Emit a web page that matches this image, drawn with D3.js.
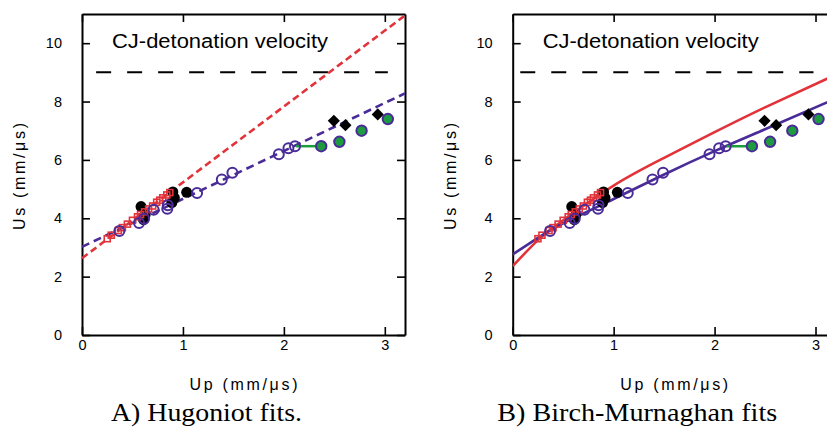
<!DOCTYPE html>
<html>
<head>
<meta charset="utf-8">
<script src="https://cdn.jsdelivr.net/npm/d3@7"></script>
<style>
body { margin: 0; background: #fff; }
svg { display: block; }
</style>
</head>
<body>
<svg id="fig"></svg>
<script>
// data, Up / Us in mm/us
var xTicks = [0, 1, 2, 3];
var yTicks = [0, 2, 4, 6, 8, 10];

var openUp = [0.37, 0.565, 0.615, 0.71, 0.845, 0.85, 1.14, 1.385, 1.49, 1.95, 2.045, 2.11];
var openUs = [3.56, 3.84, 3.98, 4.29, 4.33, 4.45, 4.87, 5.33, 5.56, 6.19, 6.40, 6.47];

var greenUp = [2.37, 2.55, 2.77, 3.03];
var greenUs = [6.47, 6.62, 7.00, 7.40];
var linkUp = [2.12, 2.37];
var linkUs = [6.47, 6.47];

var diamondUp = [2.495, 2.61, 2.93];
var diamondUs = [7.34, 7.19, 7.56];

var blackUp = [0.585, 0.625, 0.61, 0.9, 0.915, 0.89, 1.037];
var blackUs = [4.40, 4.11, 3.95, 4.90, 4.70, 4.54, 4.89];

var redUp = [0.25, 0.29, 0.36, 0.40, 0.45, 0.50, 0.55, 0.58, 0.62, 0.66, 0.70, 0.74, 0.77, 0.80, 0.84, 0.87];
var redUs = [3.30, 3.42, 3.58, 3.68, 3.80, 3.93, 4.05, 4.13, 4.22, 4.32, 4.42, 4.55, 4.62, 4.70, 4.80, 4.88];

// A) Hugoniot fits (straight lines)
var hugRedUp = [0, 3.2];
var hugRedUs = [2.63, 10.95];
var hugBlueUp = [0, 3.2];
var hugBlueUs = [3.02, 8.28];

// B) Birch-Murnaghan fits (curves)
var bmRedUp = [0, 0.25, 0.5, 1, 1.5, 2, 2.5, 3.2];
var bmRedUs = [2.36, 3.25, 3.93, 5.12, 6.07, 6.95, 7.80, 8.92];
var bmBlueUp = [0, 0.25, 0.5, 1, 1.5, 2, 2.5, 3.2];
var bmBlueUs = [2.76, 3.33, 3.83, 4.66, 5.50, 6.30, 7.05, 8.10];

var cjUs = 9;
var cjUpA = [0.14, 3.03];
var cjUpB = [0.075, 2.98];

var red = "#e2333b", blue = "#4a2c98", green = "#1d9b3e";

var width = 827, height = 430;
var pw = 323, ph = 321;
var sans = "'Liberation Sans', Arial, sans-serif";

var svg = d3.select("#fig").attr("width", width).attr("height", height);

function pairs(xs, ys) {
  return xs.map(function(d, i) { return [d, ys[i]]; });
}

function panel(id, left, caption, capLen, fits) {
  var x = d3.scaleLinear().domain([0, 3.2]).range([0, pw]);
  var y = d3.scaleLinear().domain([0, 11]).range([ph, 0]);

  var g = svg.append("g").attr("transform", "translate(" + left + ",14)");

  g.append("clipPath").attr("id", "clip" + id)
    .append("rect").attr("width", pw).attr("height", ph);

  // frame with inward ticks on all sides
  var ax = [
    [d3.axisBottom(x).tickValues(xTicks).tickFormat(d3.format("d")), "translate(0," + ph + ")", 5],
    [d3.axisLeft(y).tickValues(yTicks).tickFormat(d3.format("d")), null, 20],
    [d3.axisTop(x).tickValues(xTicks).tickFormat(""), null, 0],
    [d3.axisRight(y).tickValues(yTicks).tickFormat(""), "translate(" + pw + ",0)", 0]
  ];
  ax.forEach(function(a) {
    var ag = g.append("g")
      .call(a[0].tickSizeInner(-8).tickSizeOuter(0).tickPadding(a[2]));
    if (a[1]) ag.attr("transform", a[1]);
    ag.attr("font-family", sans).attr("font-size", 14.5);
    ag.select(".domain").attr("stroke-width", 2);
    ag.selectAll(".tick line").attr("stroke-width", 1.6);
    ag.selectAll("text").attr("fill", "#000");
  });

  var plot = g.append("g").attr("clip-path", "url(#clip" + id + ")");

  // CJ line and label
  var cjUp = id == "A" ? cjUpA : cjUpB;
  plot.append("line")
    .attr("x1", x(cjUp[0])).attr("x2", x(cjUp[1]))
    .attr("y1", y(cjUs)).attr("y2", y(cjUs))
    .attr("stroke", "#000").attr("stroke-width", 2)
    .attr("stroke-dasharray", "15,16");

  g.append("text")
    .attr("x", 30).attr("y", 34)
    .attr("font-family", sans)
    .attr("font-size", 20)
    .attr("textLength", 216).attr("lengthAdjust", "spacingAndGlyphs")
    .text("CJ-detonation velocity");

  // fits
  fits.forEach(function(f) {
    var line = d3.line()
      .x(function(d) { return x(d[0]); })
      .y(function(d) { return y(d[1]); })
      .curve(d3.curveNatural);
    plot.append("path")
      .datum(pairs(f.up, f.us))
      .attr("d", line)
      .attr("fill", "none")
      .attr("stroke", f.color)
      .attr("stroke-width", 2.6)
      .attr("stroke-dasharray", f.dash);
  });

  // green connector
  plot.append("line")
    .attr("x1", x(linkUp[0])).attr("x2", x(linkUp[1]))
    .attr("y1", y(linkUs[0])).attr("y2", y(linkUs[1]))
    .attr("stroke", green).attr("stroke-width", 2.5);

  plot.selectAll(".blk")
    .data(pairs(blackUp, blackUs)).enter()
    .append("circle")
    .attr("cx", function(d) { return x(d[0]); })
    .attr("cy", function(d) { return y(d[1]); })
    .attr("r", 5.5).attr("fill", "#000");

  plot.selectAll(".sq")
    .data(pairs(redUp, redUs)).enter()
    .append("rect")
    .attr("x", function(d) { return x(d[0]) - 3; })
    .attr("y", function(d) { return y(d[1]) - 3; })
    .attr("width", 6).attr("height", 6)
    .attr("fill", "none").attr("stroke", red).attr("stroke-width", 1.6);

  plot.selectAll(".open")
    .data(pairs(openUp, openUs)).enter()
    .append("circle")
    .attr("cx", function(d) { return x(d[0]); })
    .attr("cy", function(d) { return y(d[1]); })
    .attr("r", 5).attr("fill", "none")
    .attr("stroke", blue).attr("stroke-width", 2);

  plot.selectAll(".grn")
    .data(pairs(greenUp, greenUs)).enter()
    .append("circle")
    .attr("cx", function(d) { return x(d[0]); })
    .attr("cy", function(d) { return y(d[1]); })
    .attr("r", 5.2).attr("fill", green)
    .attr("stroke", blue).attr("stroke-width", 2);

  var dia = d3.symbol(d3.symbolSquare, 74);
  plot.selectAll(".dia")
    .data(pairs(diamondUp, diamondUs)).enter()
    .append("path")
    .attr("d", dia)
    .attr("transform", function(d) { return "translate(" + x(d[0]) + "," + y(d[1]) + ") rotate(45)"; })
    .attr("fill", "#000");

  // axis titles
  g.append("text")
    .attr("transform", "translate(-57," + 162.5 + ") rotate(-90)")
    .attr("text-anchor", "middle")
    .attr("font-family", sans)
    .attr("font-size", 16)
    .attr("textLength", 107).attr("lengthAdjust", "spacing")
    .text("Us (mm/\u03bcs)");

  g.append("text")
    .attr("x", pw / 2).attr("y", 376)
    .attr("text-anchor", "middle")
    .attr("font-family", sans)
    .attr("font-size", 16)
    .attr("textLength", 108).attr("lengthAdjust", "spacing")
    .text("Up (mm/\u03bcs)");

  g.append("text")
    .attr("x", 124.5).attr("y", 407)
    .attr("text-anchor", "middle")
    .attr("font-family", "'Liberation Serif', 'Times New Roman', serif")
    .attr("font-size", 25)
    .attr("textLength", capLen).attr("lengthAdjust", "spacingAndGlyphs")
    .text(caption);
}

panel("A", 82, "A) Hugoniot fits.", 191, [
  {up: hugRedUp, us: hugRedUs, color: red, dash: "7,4"},
  {up: hugBlueUp, us: hugBlueUs, color: blue, dash: "8,5"}
]);

panel("B", 512.7, "B) Birch-Murnaghan fits", 280, [
  {up: bmRedUp, us: bmRedUs, color: red, dash: null},
  {up: bmBlueUp, us: bmBlueUs, color: blue, dash: null}
]);
</script>
</body>
</html>
